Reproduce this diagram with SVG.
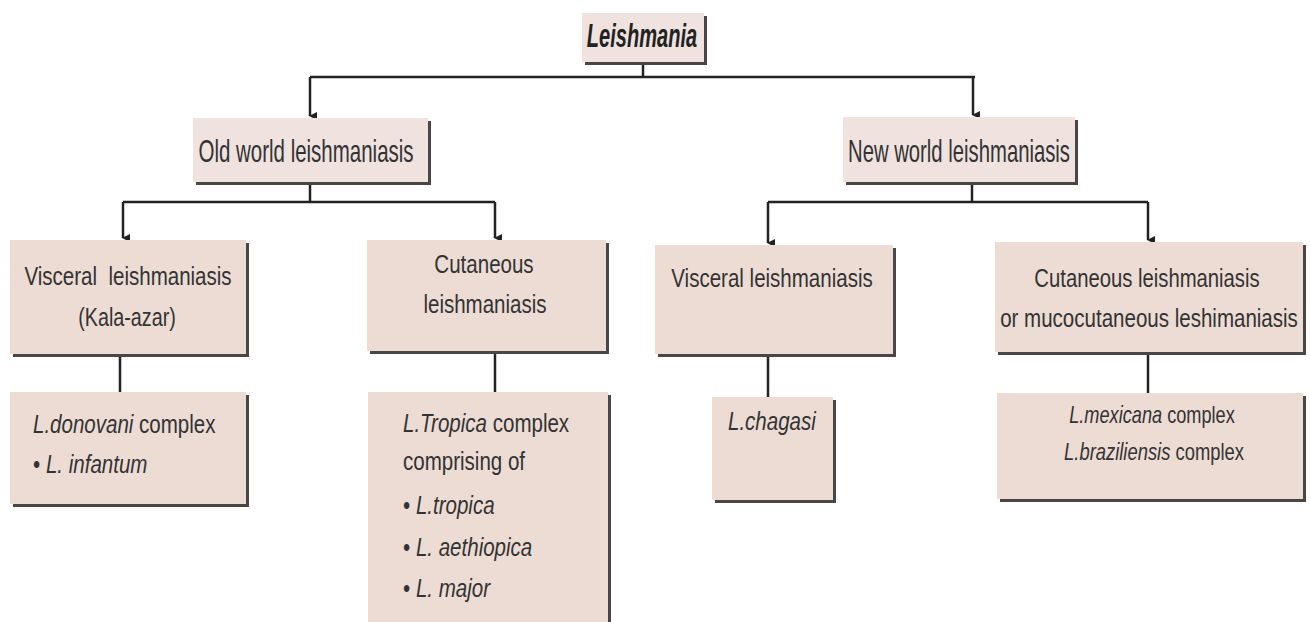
<svg xmlns="http://www.w3.org/2000/svg" width="1310" height="622" viewBox="0 0 1310 622">
<style>
.sh{fill:#4a4646}
.bx{fill:#ecdcd4}
.bx2{fill:#efe2df}
.t{font-family:"Liberation Sans",Arial,sans-serif;fill:#333;}
.t1{font-size:34px;font-weight:bold;font-style:italic;fill:#222}
.t2{font-size:32px}
.t3{font-size:26px}
.t4{font-size:23px}
.m{text-anchor:middle}
.i{font-style:italic}
.c{fill:none;stroke:#222;stroke-width:2.5}
</style>
<defs>
<marker id="ar" markerWidth="8" markerHeight="8" refX="4" refY="7" orient="auto-start-reverse" markerUnits="userSpaceOnUse" viewBox="0 0 8 8">
<path d="M0,0 L8,0 L4,8 Z" fill="#222"/>
</marker>
</defs>
<rect width="1310" height="622" fill="#fff"/>
<g id="connectors">
<path class="c" d="M643,65 V77"/>
<path class="c" d="M310,77 H975"/>
<path class="c" d="M310,77 V116" marker-end="url(#ar)"/>
<path class="c" d="M973,77 V115" marker-end="url(#ar)"/>
<path class="c" d="M310,185 V202"/>
<path class="c" d="M123,202 H495"/>
<path class="c" d="M123,202 V238" marker-end="url(#ar)"/>
<path class="c" d="M495,202 V238" marker-end="url(#ar)"/>
<path class="c" d="M972,185 V202"/>
<path class="c" d="M768,202 H1148"/>
<path class="c" d="M768,202 V243" marker-end="url(#ar)"/>
<path class="c" d="M1148,202 V240" marker-end="url(#ar)"/>
<path class="c" d="M120,357 V392"/>
<path class="c" d="M495,354 V392"/>
<path class="c" d="M768,357 V397"/>
<path class="c" d="M1148,355 V393"/>
</g>
<g id="leishmania">
<rect class="sh" x="585" y="16" width="122" height="49"/>
<rect class="bx2" x="582" y="13" width="122" height="49"/>
<text class="t t1 m" transform="translate(642,47) scale(0.59,1)">Leishmania</text>
</g>
<g id="old-world">
<rect class="sh" x="196" y="121" width="235" height="64"/>
<rect class="bx2" x="193" y="118" width="235" height="64"/>
<text class="t t2 m" transform="translate(306,162) scale(0.64,1)">Old world leishmaniasis</text>
</g>
<g id="new-world">
<rect class="sh" x="846" y="120" width="232" height="65"/>
<rect class="bx2" x="843" y="117" width="232" height="65"/>
<text class="t t2 m" transform="translate(959,162) scale(0.634,1)">New world leishmaniasis</text>
</g>
<g id="visceral-old">
<rect class="sh" x="13" y="243" width="236" height="114"/>
<rect class="bx" x="10" y="240" width="236" height="114"/>
<text class="t t3 m" transform="translate(128,285) scale(0.79,1)" xml:space="preserve">Visceral  leishmaniasis</text>
<text class="t t3 m" transform="translate(127,326) scale(0.76,1)">(Kala-azar)</text>
</g>
<g id="cutaneous-old">
<rect class="sh" x="370" y="243" width="239" height="111"/>
<rect class="bx" x="367" y="240" width="239" height="111"/>
<text class="t t3 m" transform="translate(484,273) scale(0.79,1)">Cutaneous</text>
<text class="t t3 m" transform="translate(485,313) scale(0.79,1)">leishmaniasis</text>
</g>
<g id="visceral-new">
<rect class="sh" x="658" y="248" width="238" height="109"/>
<rect class="bx" x="655" y="245" width="238" height="109"/>
<text class="t t3 m" transform="translate(772,287) scale(0.79,1)">Visceral leishmaniasis</text>
</g>
<g id="cutaneous-new">
<rect class="sh" x="998" y="245" width="308" height="110"/>
<rect class="bx" x="995" y="242" width="308" height="110"/>
<text class="t t3 m" transform="translate(1147,287) scale(0.78,1)">Cutaneous leishmaniasis</text>
<text class="t t3 m" transform="translate(1149,327) scale(0.79,1)">or mucocutaneous leshimaniasis</text>
</g>
<g id="donovani">
<rect class="sh" x="13" y="395" width="236" height="112"/>
<rect class="bx" x="10" y="392" width="236" height="112"/>
<text class="t t3" transform="translate(33,433) scale(0.79,1)"><tspan class="i">L.donovani</tspan> complex</text>
<text class="t t3" transform="translate(33,473) scale(0.79,1)">• <tspan class="i">L. infantum</tspan></text>
</g>
<g id="tropica">
<rect class="sh" x="371" y="395" width="240" height="240"/>
<rect class="bx" x="368" y="392" width="240" height="240"/>
<text class="t t3" transform="translate(403,432) scale(0.79,1)"><tspan class="i">L.Tropica</tspan> complex</text>
<text class="t t3" transform="translate(403,470) scale(0.79,1)">comprising of</text>
<text class="t t3" transform="translate(403,514) scale(0.79,1)">• <tspan class="i">L.tropica</tspan></text>
<text class="t t3" transform="translate(403,556) scale(0.79,1)">• <tspan class="i">L. aethiopica</tspan></text>
<text class="t t3" transform="translate(403,597) scale(0.79,1)">• <tspan class="i">L. major</tspan></text>
</g>
<g id="chagasi">
<rect class="sh" x="715" y="400" width="121" height="103"/>
<rect class="bx" x="712" y="397" width="121" height="103"/>
<text class="t t3" transform="translate(728,430) scale(0.79,1)"><tspan class="i">L.chagasi</tspan></text>
</g>
<g id="mexicana">
<rect class="sh" x="1000" y="396" width="306" height="106"/>
<rect class="bx" x="997" y="393" width="306" height="106"/>
<text class="t t4 m" transform="translate(1152,423) scale(0.79,1)"><tspan class="i">L.mexicana</tspan> complex</text>
<text class="t t4 m" transform="translate(1154,460) scale(0.8,1)"><tspan class="i">L.braziliensis</tspan> complex</text>
</g>
</svg>
